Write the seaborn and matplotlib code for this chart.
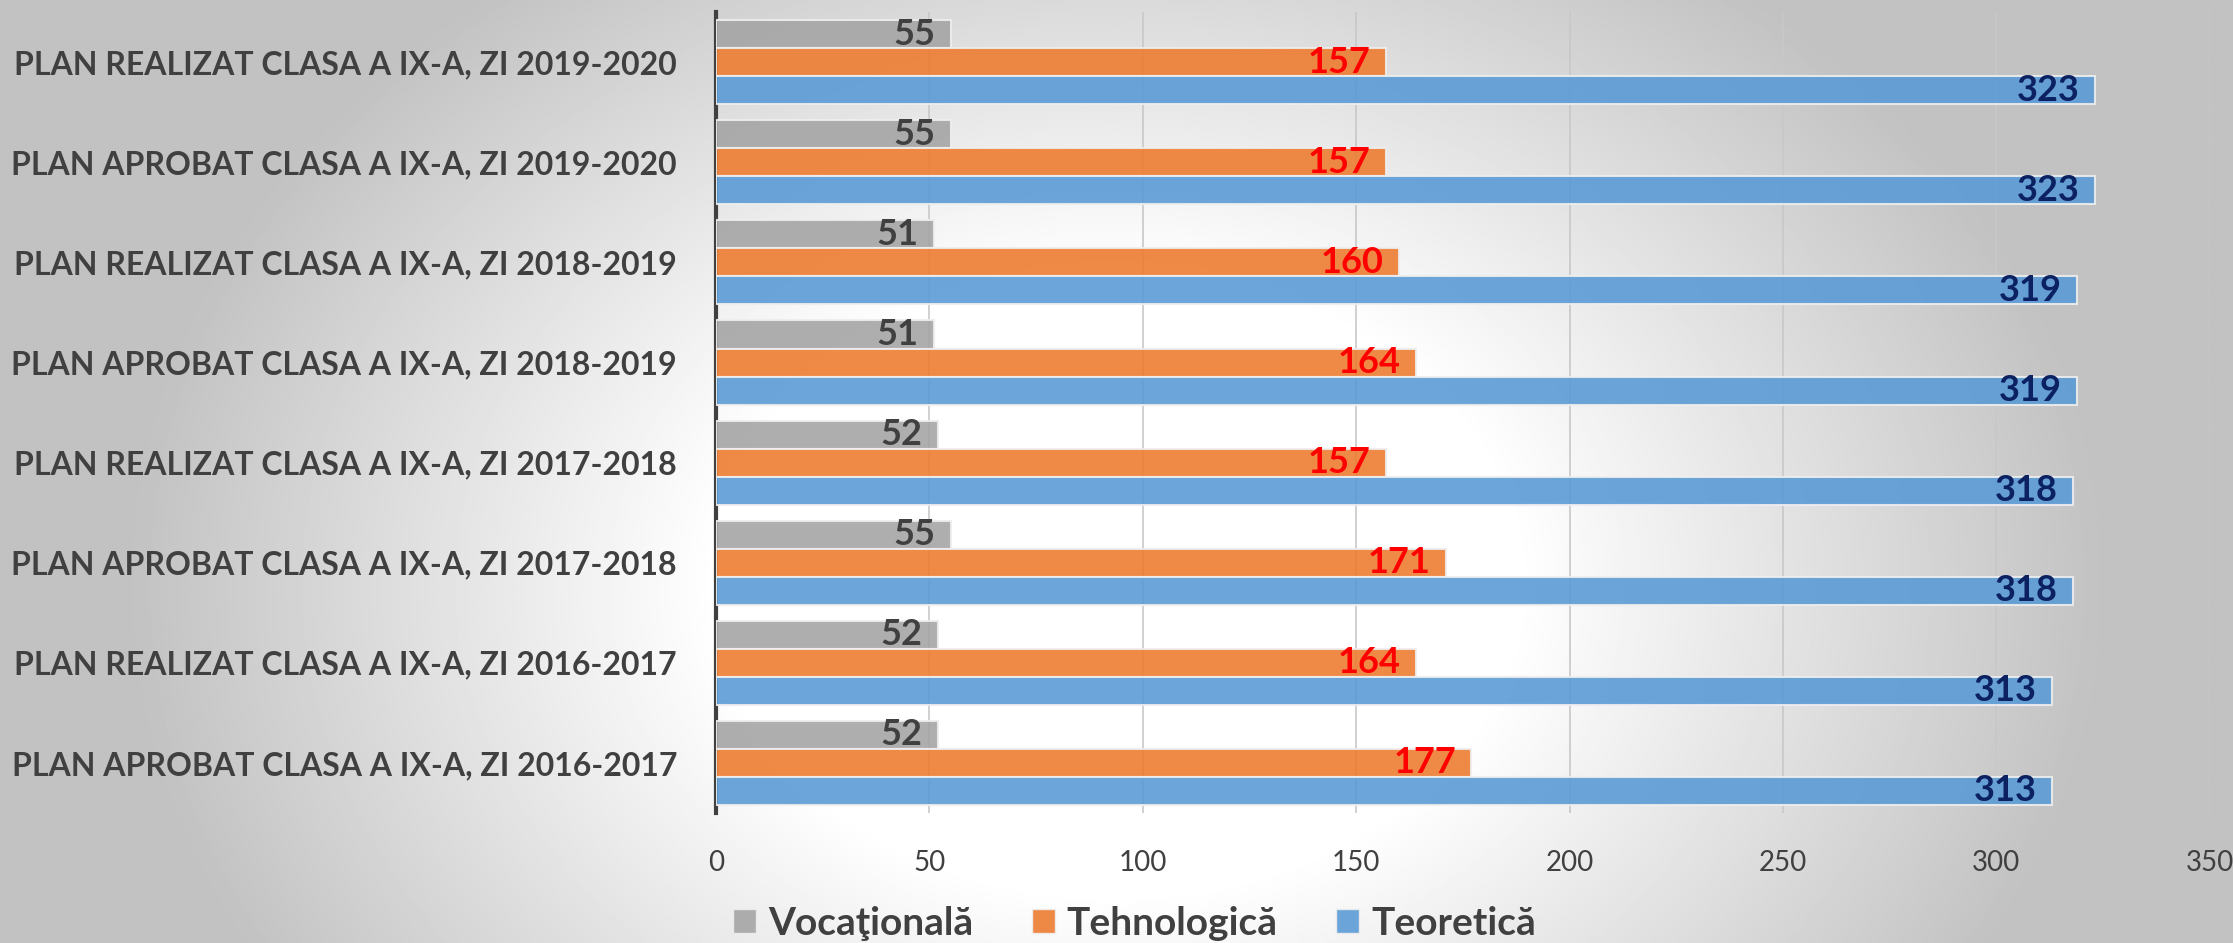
import numpy as np
import pandas as pd
import matplotlib
matplotlib.use('Agg')
import matplotlib.pyplot as plt
import seaborn as sns
from matplotlib.patches import Patch

# =============================================================================
# Data
# =============================================================================
categories = [
    'PLAN REALIZAT CLASA A IX-A, ZI 2019-2020',
    'PLAN APROBAT CLASA A IX-A, ZI 2019-2020',
    'PLAN REALIZAT CLASA A IX-A, ZI 2018-2019',
    'PLAN APROBAT CLASA A IX-A, ZI 2018-2019',
    'PLAN REALIZAT CLASA A IX-A, ZI 2017-2018',
    'PLAN APROBAT CLASA A IX-A, ZI 2017-2018',
    'PLAN REALIZAT CLASA A IX-A, ZI 2016-2017',
    'PLAN APROBAT CLASA A IX-A, ZI 2016-2017',
]
series_names = ['Vocaţională', 'Tehnologică', 'Teoretică']
vocationala = [55, 55, 51, 51, 52, 55, 52, 52]
tehnologica = [157, 157, 160, 164, 157, 171, 164, 177]
teoretica = [323, 323, 319, 319, 318, 318, 313, 313]
x_ticks = [0, 50, 100, 150, 200, 250, 300, 350]

colors = ['#a5a5a5', '#ed7d31', '#5b9bd5']
label_colors = ['#404040', '#ff0000', '#0b2162']

df = pd.DataFrame({
    'categorie': categories * 3,
    'serie': np.repeat(series_names, len(categories)),
    'valoare': vocationala + tehnologica + teoretica,
})

# =============================================================================
# Figure
# =============================================================================
sns.set_theme(style='white')
plt.rcParams['font.family'] = ['Lato', 'DejaVu Sans']

fig = plt.figure(figsize=(22.33, 9.43), dpi=100)

# radial grey background
bg = fig.add_axes([0, 0, 1, 1], zorder=-10)
yy, xx = np.mgrid[0:1:400j, 0:1:900j]
r = np.sqrt(((xx - 0.5) / 0.6) ** 2 + ((yy - 0.62) / 1.1) ** 2)
shade = 1 - 0.3 * np.clip(r - 0.3, 0, None) / 0.55
shade = np.clip(shade, 0.76, 1)
bg.imshow(shade, cmap='gray', vmin=0, vmax=1, aspect='auto', extent=[0, 1, 0, 1])
bg.axis('off')

ax = fig.add_axes([0.3206, 0.138, 0.669, 0.849])
ax.set_facecolor('none')

sns.barplot(data=df, y='categorie', x='valoare', hue='serie', orient='h',
            palette=colors, saturation=1, width=0.84, edgecolor='#eeeeee',
            linewidth=1.5, alpha=0.9, ax=ax, legend=False, zorder=3)

# value labels inside the bar ends
for cont, lc in zip(ax.containers, label_colors):
    texts = ax.bar_label(cont, label_type='edge', padding=-11, color=lc,
                         fontsize=26, fontweight='bold')
    for t in texts:
        t.set_ha('right')

ax.set_xlim(0, 350)
ax.set_xticks(x_ticks)
ax.set_xticklabels([str(t) for t in x_ticks])
ax.tick_params(axis='x', labelsize=20, colors='#404040', pad=27, length=0)
ax.tick_params(axis='y', labelsize=23, colors='#404040', pad=28, length=0)
for lab in ax.get_yticklabels():
    lab.set_fontweight('bold')
ax.set_xlabel('')
ax.set_ylabel('')
ax.grid(axis='x', color='#c8c8c8', linewidth=1.2, zorder=0)
ax.set_axisbelow(True)
for s in ['top', 'right', 'bottom']:
    ax.spines[s].set_visible(False)
ax.spines['left'].set_color('#404040')
ax.spines['left'].set_linewidth(3)

handles = [Patch(facecolor=c, edgecolor='#eeeeee', alpha=0.9) for c in colors]
fig.legend(handles, series_names, loc='center', bbox_to_anchor=(0.508, 0.021),
           ncol=3, frameon=False, handlelength=0.6, handleheight=0.6,
           handletextpad=0.3, columnspacing=1.5, labelcolor='#404040',
           prop={'family': ['Lato', 'DejaVu Sans'], 'weight': 'bold', 'size': 28})

plt.savefig('out.png', dpi=100)
